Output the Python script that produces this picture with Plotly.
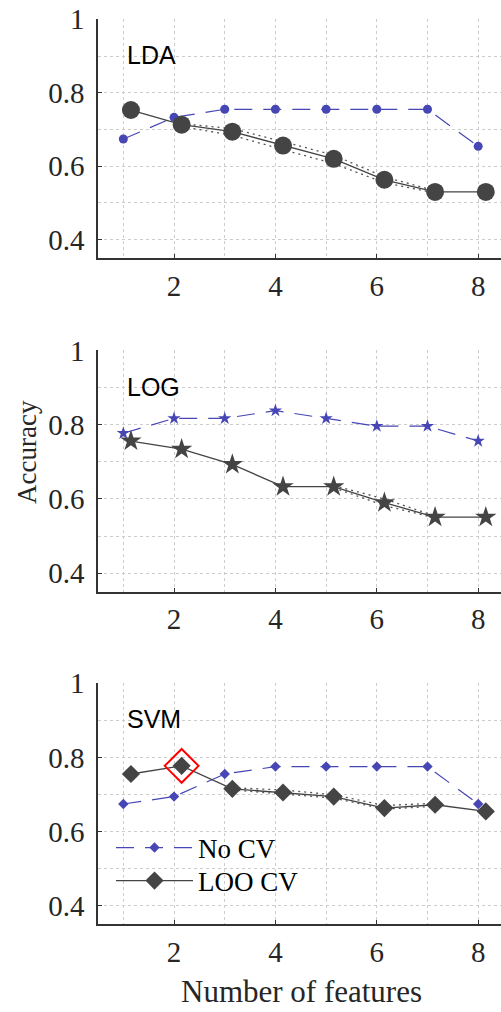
import plotly.graph_objects as go

features = [1, 2, 3, 4, 5, 6, 7, 8]
models = ["LDA", "LOG", "SVM"]

lda_no_cv = [0.674, 0.733, 0.755, 0.755, 0.755, 0.755, 0.755, 0.654]
lda_loo = [0.753, 0.713, 0.694, 0.656, 0.620, 0.563, 0.530, 0.530]
lda_upper = [None, 0.716, 0.702, 0.667, 0.630, 0.571, 0.533, None]
lda_lower = [None, 0.708, 0.684, 0.645, 0.607, 0.555, 0.527, None]

log_no_cv = [0.777, 0.817, 0.817, 0.838, 0.817, 0.796, 0.796, 0.756]
log_loo = [0.756, 0.734, 0.693, 0.633, 0.633, 0.590, 0.551, 0.551]
log_upper = [None, None, None, None, 0.636, 0.600, 0.554, None]
log_lower = [None, None, None, None, 0.630, 0.582, 0.549, None]

svm_no_cv = [0.674, 0.694, 0.755, 0.775, 0.775, 0.775, 0.775, 0.674]
svm_loo = [0.755, 0.777, 0.715, 0.705, 0.694, 0.663, 0.672, 0.654]
svm_upper = [None, None, 0.718, 0.712, 0.699, 0.670, 0.676, None]
svm_lower = [None, None, 0.712, 0.700, 0.690, 0.660, 0.668, None]

y_ticks = [0.4, 0.6, 0.8, 1]
x_ticks = [2, 4, 6, 8]

BLUE = "#4646b4"
DARK = "#444444"
SERIF = "Liberation Serif, Times New Roman, serif"
SANS = "Liberation Sans, Arial, sans-serif"
loo_shift = 0.15  # LOO markers are drawn a bit right of the integer position

panels = [
    (lda_no_cv, lda_loo, lda_upper, lda_lower, "circle", 9, "circle", 18),
    (log_no_cv, log_loo, log_upper, log_lower, "star", 10, "star", 16),
    (svm_no_cv, svm_loo, svm_upper, svm_lower, "diamond", 8, "diamond", 14),
]

# panel vertical domains (paper fractions)
domains = [(0.7451, 0.9809), (0.4153, 0.6537), (0.0870, 0.3248)]

fig = go.Figure()
x_loo = [f + loo_shift for f in features]

for i, (no_cv, loo, up, lo, sym_a, size_a, sym_b, size_b) in enumerate(panels):
    n = "" if i == 0 else str(i + 1)
    xa, ya = "x" + n, "y" + n
    leg = i == 2
    fig.add_trace(go.Scatter(x=features, y=no_cv, xaxis=xa, yaxis=ya, name="No CV",
                             mode="lines+markers", showlegend=leg, legend="legend",
                             line=dict(color=BLUE, width=1.2, dash="18px,11px"),
                             marker=dict(symbol=sym_a, size=size_a, color=BLUE)))
    for band in (up, lo):
        fig.add_trace(go.Scatter(x=x_loo, y=band, xaxis=xa, yaxis=ya, mode="lines",
                                 showlegend=False, connectgaps=False,
                                 line=dict(color="#555555", width=1.3, dash="2px,4px")))
    fig.add_trace(go.Scatter(x=x_loo, y=loo, xaxis=xa, yaxis=ya, name="LOO CV",
                             mode="lines+markers", showlegend=leg, legend="legend2",
                             line=dict(color=DARK, width=1.3),
                             marker=dict(symbol=sym_b, size=size_b, color=DARK)))

    fig.layout["xaxis" + n] = dict(
        domain=[0.1956, 1], range=[0.5, 8.45], anchor=ya, automargin=False,
        tickvals=x_ticks, ticks="inside", ticklen=4, tickcolor="#333333",
        showline=True, linecolor="#333333", linewidth=1.5,
        showgrid=True, gridcolor="#cccccc", griddash="dot", gridwidth=1,
        minor=dict(dtick=1, tick0=0, showgrid=True, gridcolor="#cccccc", griddash="dot"),
        tickfont=dict(family=SERIF, size=29, color="#262626"),
        ticklabelstandoff=1, zeroline=False, fixedrange=True)
    fig.layout["yaxis" + n] = dict(
        domain=list(domains[i]), range=[0.35, 1.0], anchor=xa, automargin=False,
        tickvals=y_ticks, ticktext=["0.4", "0.6", "0.8", "1"],
        ticks="inside", ticklen=4, tickcolor="#333333",
        showline=True, linecolor="#333333", linewidth=1.5,
        showgrid=True, gridcolor="#cccccc", griddash="dot", gridwidth=1,
        minor=dict(dtick=0.1, tick0=0, showgrid=True, gridcolor="#cccccc", griddash="dot"),
        tickfont=dict(family=SERIF, size=29, color="#262626"),
        ticklabelstandoff=6, zeroline=False, fixedrange=True)

    fig.add_annotation(text=models[i], xref=xa + " domain", yref=ya + " domain",
                       x=0.067, y=0.85, xanchor="left", yanchor="middle", showarrow=False,
                       font=dict(family=SANS, size=25, color="black"))

# best LOO result for SVM gets a red frame
best = max(range(len(svm_loo)), key=lambda k: svm_loo[k])
fig.add_trace(go.Scatter(x=[x_loo[best]], y=[svm_loo[best]], xaxis="x3", yaxis="y3",
                         mode="markers", showlegend=False,
                         marker=dict(symbol="diamond-open", size=26, color="red",
                                     line=dict(color="red", width=2))))

fig.add_annotation(text="Accuracy", xref="paper", yref="paper", x=27 / 501, y=1 - 452 / 1012,
                   textangle=-90, showarrow=False, xanchor="center", yanchor="middle",
                   font=dict(family=SERIF, size=27, color="#262626"))
fig.add_annotation(text="Number of features", xref="paper", yref="paper", x=301 / 501,
                   y=1 - 991 / 1012, showarrow=False, xanchor="center", yanchor="middle",
                   font=dict(family=SERIF, size=31, color="#262626"))

leg_style = dict(x=111 / 501, xanchor="left", yanchor="middle", bgcolor="rgba(0,0,0,0)",
                 font=dict(family=SERIF, size=27, color="black"), itemwidth=77)
fig.update_layout(
    width=501, height=1012,
    margin=dict(l=0, r=0, t=0, b=0),
    font=dict(family=SERIF, color="#262626"),
    plot_bgcolor="white", paper_bgcolor="white",
    hovermode=False,
    legend=dict(y=1 - 848 / 1012, **leg_style),
    legend2=dict(y=1 - 881 / 1012, **leg_style),
)

fig.write_html("out.html", config={"displayModeBar": False},
               post_script="document.body.style.margin = '0';")
